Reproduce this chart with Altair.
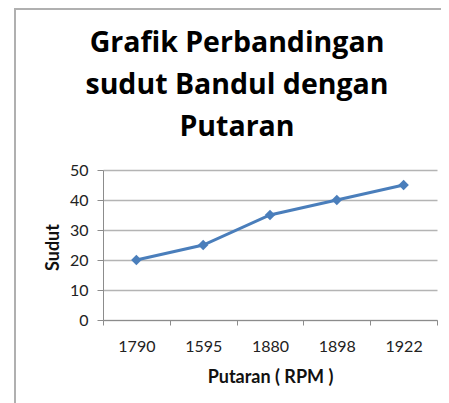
import altair as alt
import pandas as pd

# Data
categories = ["1790", "1595", "1880", "1898", "1922"]
sudut = [20, 25, 35, 40, 45]
title_lines = ["Grafik Perbandingan", "sudut Bandul dengan", "Putaran"]
y_ticks = [0, 10, 20, 30, 40, 50]

df = pd.DataFrame({
    "pos": [i + 0.5 for i in range(len(categories))],
    "kategori": categories,
    "sudut": sudut,
})

FONT = "Lato"
TITLE_FONT = "Open Sans"
LINE_COLOR = "#4A7EBB"

x_values = [i / 2 for i in range(2 * len(categories) + 1)]
label_array = "[" + ",".join("'" + c + "'" for c in categories) + "]"
label_expr = "datum.value % 1 == 0 ? '' : " + label_array + "[floor(datum.value)]"

x_enc = alt.X(
    "pos:Q",
    scale=alt.Scale(domain=[0, len(categories)], nice=False, zero=False),
    axis=alt.Axis(
        values=x_values,
        labelExpr=label_expr,
        labelOverlap=False,
        labelFlush=False,
        labelFont=FONT,
        labelFontSize=16,
        labelColor="#222222",
        labelPadding=13,
        tickSize=5,
        tickColor="#8c8c8c",
        tickOpacity={"condition": {"test": "datum.value % 1 != 0", "value": 0}, "value": 1},
        domainColor="#8c8c8c",
        grid=False,
        title="Putaran ( RPM )",
        titleFont=FONT,
        titleFontSize=18,
        titleFontWeight="bold",
        titleColor="#111111",
        titleY=48,
    ),
)

y_enc = alt.Y(
    "sudut:Q",
    scale=alt.Scale(domain=[0, 50], nice=False),
    axis=alt.Axis(
        values=y_ticks,
        labelOverlap=False,
        labelFont=FONT,
        labelFontSize=16,
        labelColor="#222222",
        labelPadding=9,
        tickSize=6,
        tickColor="#8c8c8c",
        domainColor="#8c8c8c",
        gridColor="#b4b4b4",
        gridWidth=1.5,
        title="Sudut",
        titleFont=FONT,
        titleFontSize=18,
        titleFontWeight="bold",
        titleColor="#111111",
        titleX=-45,
        titleY=77,
        titleBaseline="alphabetic",
    ),
)

base = alt.Chart(df).encode(x=x_enc, y=y_enc)
line = base.mark_line(color=LINE_COLOR, strokeWidth=3)
points = base.mark_point(
    shape="diamond", filled=True, color=LINE_COLOR, size=110, opacity=1
)

frame_data = alt.Data(values=[{"k": 0}])
left_border = alt.Chart(frame_data).mark_rule(color="#b0b0b0", strokeWidth=2).encode(
    x=alt.value(-88), y=alt.value(-162), y2=alt.value(233)
)
top_border = alt.Chart(frame_data).mark_rule(color="#b0b0b0", strokeWidth=2).encode(
    x=alt.value(-89), x2=alt.value(338), y=alt.value(-161)
)

chart = alt.layer(line, points, left_border, top_border).properties(
    width=334,
    height=150,
    autosize=alt.AutoSizeParams(type="none"),
    padding={"left": 95, "top": 162, "right": 4, "bottom": 83},
    title=alt.TitleParams(
        text=title_lines,
        font=TITLE_FONT,
        fontSize=28.5,
        fontWeight="bold",
        color="#000000",
        lineHeight=42,
        anchor="middle",
        baseline="alphabetic",
        dx=-33,
        offset=-157,
    ),
).configure_view(stroke=None)

chart.save("out.html", embed_options={"renderer": "svg", "actions": False})
